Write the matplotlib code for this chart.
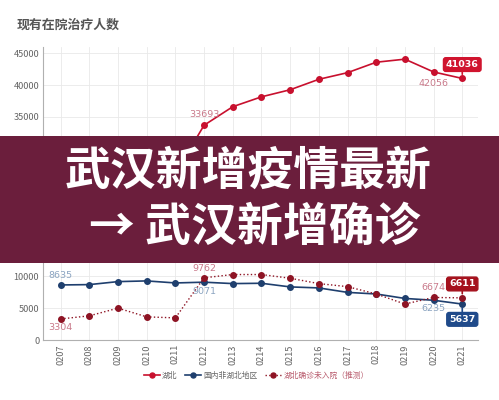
import numpy as np
import matplotlib.pyplot as plt
from matplotlib.patches import Rectangle

plt.rcParams['font.family'] = ['Noto Sans CJK SC', 'DejaVu Sans']

dates = ['0207', '0208', '0209', '0210', '0211', '0212', '0213', '0214',
         '0215', '0216', '0217', '0218', '0219', '0220', '0221']
# 湖北 现有在院 (early values sit behind the banner)
hubei = [19835, 22160, 24117, 25087, 26121, 33693, 36600, 38150,
         39260, 40900, 41940, 43580, 44060, 42056, 41036]
# 国内非湖北地区
other = [8635, 8690, 9160, 9270, 8950, 9071, 8850, 8900,
         8330, 8170, 7470, 7220, 6520, 6235, 5637]
# 湖北确诊未入院（推测）
waiting = [3304, 3790, 5000, 3630, 3470, 9762, 10270, 10270,
           9690, 8850, 8370, 7220, 5640, 6674, 6611]

c_hubei = '#c8102e'
c_other = '#1f3f6e'
c_wait = '#8e1424'
c_pink = '#c9798a'
c_blue = '#8aa3c0'

fig = plt.figure(figsize=(4.99, 4.0), dpi=100)
ax = fig.add_axes([0.087, 0.15, 0.871, 0.733])

x = np.arange(len(dates))
ax.plot(x, hubei, color=c_hubei, lw=1.2, marker='o', ms=4, label='湖北', zorder=3)
ax.plot(x, other, color=c_other, lw=1.2, marker='o', ms=4, label='国内非湖北地区', zorder=3)
ax.plot(x, waiting, color=c_wait, lw=1.0, ls=':', marker='o', ms=4,
        label='湖北确诊未入院（推测）', zorder=3)

ax.set_xlim(-0.6, 14.55)
ax.set_ylim(0, 46000)
ax.set_yticks(np.arange(0, 45001, 5000))
ax.set_xticks(x)
ax.set_xticklabels(dates, rotation=90)
ax.tick_params(axis='both', length=0, labelsize=6.6, labelcolor='#666666', pad=3)
ax.grid(True, color='#e9e9e9', lw=0.6)
ax.set_axisbelow(True)
for s in ['top', 'right']:
    ax.spines[s].set_visible(False)
for s in ['left', 'bottom']:
    ax.spines[s].set_color('#b0b0b0')
    ax.spines[s].set_linewidth(0.8)

# plain value labels
def lab(i, v, dy, col):
    ax.annotate(str(v), (i, v), xytext=(0, dy), textcoords='offset points',
                ha='center', va='center', fontsize=6.8, color=col,
                family='DejaVu Sans')

lab(5, hubei[5], 7.5, c_pink)
lab(13, hubei[13], -8, c_pink)
lab(0, other[0], 6.5, c_blue)
lab(5, other[5], -6.5, c_blue)
lab(13, other[13], -6, c_blue)
lab(0, waiting[0], -6.5, c_pink)
lab(5, waiting[5], 7, c_pink)
lab(13, waiting[13], 7.5, c_pink)

# boxed labels on the last day
def boxed(i, v, dy, col):
    ax.annotate(str(v), (i, v), xytext=(0, dy), textcoords='offset points',
                ha='center', va='center', fontsize=6.8, color='white',
                fontweight='bold', family='DejaVu Sans',
                bbox=dict(boxstyle='round,pad=0.25', fc=col, ec=col),
                arrowprops=dict(arrowstyle='-', color=col, lw=1.2, shrinkA=0, shrinkB=3),
                zorder=5)

boxed(14, hubei[14], 10, '#d0142e')
boxed(14, waiting[14], 10, '#a5101c')
boxed(14, other[14], -11, '#1f4a8a')

leg = ax.legend(loc='center', bbox_to_anchor=(0.49, -0.123), ncol=3, frameon=False,
                fontsize=5.6, handlelength=2.0, handletextpad=0.3, columnspacing=1.0,
                markerscale=0.9)
cols = ['#666666', '#666666', '#b85a6c']
for t, c in zip(leg.get_texts(), cols):
    t.set_color(c)

fig.text(0.033, 0.9375, '现有在院治疗人数', fontsize=9.3, fontweight='bold',
         color='#555555', va='center', ha='left')

# banner
fig.add_artist(Rectangle((0, 0.3425), 1, 0.318, transform=fig.transFigure,
                         facecolor='#6b1e3c', edgecolor='none', zorder=10))
fig.text(0.497, 0.571, '武汉新增疫情最新', fontsize=33, fontweight='black',
         color='white', ha='center', va='center', zorder=11)
fig.text(0.511, 0.43, '→ 武汉新增确诊', fontsize=33, fontweight='black',
         color='white', ha='center', va='center', zorder=11)

fig.savefig('out.png', dpi=100)
